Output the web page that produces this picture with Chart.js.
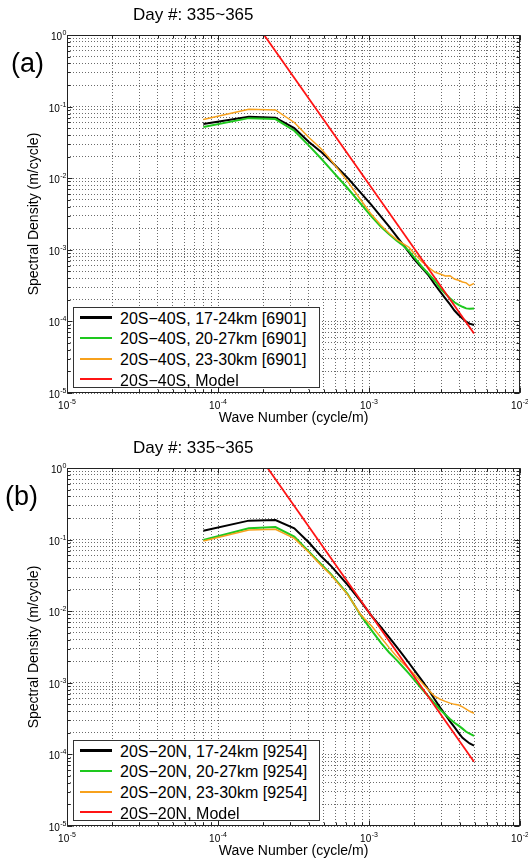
<!DOCTYPE html>
<html>
<head>
<meta charset="utf-8">
<script src="https://cdn.jsdelivr.net/npm/chart.js@4.4.1/dist/chart.umd.min.js"></script>
<style>
  html, body { margin: 0; padding: 0; background: #fff; width: 528px; height: 861px; overflow: hidden; position: relative; }
  .panel { position: absolute; left: 0; width: 540px; height: 433px; }
  .panel canvas { position: absolute; left: 0; top: 0; }
  .title { position: absolute; left: 133px; top: 5px; font: 17px/20px "Liberation Sans", Arial, sans-serif; color: #000; white-space: nowrap; }
  .tag { position: absolute; top: 48px; font: 27px/30px "Liberation Sans", Arial, sans-serif; color: #000; white-space: nowrap; }
  .legend { position: absolute; left: 73px; top: 307px; width: 245px; height: 79px; border: 1px solid #333; background: #fff; }
  .row { position: absolute; left: 0; height: 20px; width: 245px; }
  .swatch { position: absolute; left: 6px; width: 32px; }
  .label { position: absolute; left: 46px; top: 0; font: 16px/20px "Liberation Sans", Arial, sans-serif; color: #000; white-space: nowrap; }
</style>
</head>
<body>
<div class="panel" id="panelA" style="top:0px">
  <canvas id="chartA" width="540" height="433"></canvas>
  <div class="title">Day #: 335~365</div>
  <div class="tag" style="left:11px">(a)</div>
  <div class="legend" id="legendA"></div>
</div>
<div class="panel" id="panelB" style="top:433px">
  <canvas id="chartB" width="540" height="433"></canvas>
  <div class="title">Day #: 335~365</div>
  <div class="tag" style="left:5px">(b)</div>
  <div class="legend" id="legendB"></div>
</div>
<script>
// ---------------- data ----------------
const K = [0.00008, 0.00016, 0.00024, 0.00032, 0.0004, 0.00048, 0.00056, 0.00072, 0.00088, 0.00104,
           0.0012, 0.00136, 0.00152, 0.00168, 0.00184, 0.002, 0.00224, 0.00248, 0.00272, 0.00296,
           0.0032, 0.00344, 0.00368, 0.00392, 0.00416, 0.0044, 0.00464, 0.00496];

// panel (a) 20S-40S
const A_17_24 = [0.057, 0.072, 0.070, 0.050, 0.032, 0.0235, 0.0172, 0.0102, 0.0063, 0.0042,
                 0.0029, 0.0021, 0.00155, 0.00118, 0.00092, 0.00073, 0.00056, 0.00044, 0.00033, 0.00026,
                 0.00021, 0.000173, 0.000142, 0.000123, 0.00011, 0.000099, 0.000093, 0.000089];
const A_20_27 = [0.052, 0.069, 0.067, 0.046, 0.0285, 0.019, 0.0132, 0.0073, 0.0044, 0.0029,
                 0.0021, 0.00165, 0.00135, 0.00115, 0.00096, 0.00078, 0.00058, 0.00046, 0.00037, 0.00029,
                 0.000245, 0.00021, 0.000185, 0.00017, 0.00016, 0.000152, 0.00015, 0.000152];
const A_23_30 = [0.066, 0.092, 0.090, 0.060, 0.037, 0.026, 0.0178, 0.0091, 0.0050, 0.0031,
                 0.0022, 0.0017, 0.0014, 0.00122, 0.00108, 0.00088, 0.00068, 0.00057, 0.00049, 0.00046,
                 0.00043, 0.000435, 0.00039, 0.000375, 0.000355, 0.000345, 0.000315, 0.00034];
const A_MODEL_K = [0.000202, 0.00496];
const A_MODEL = [1.0, 0.0000676];

// panel (b) 20S-20N
const B_17_24 = [0.133, 0.184, 0.188, 0.144, 0.091, 0.059, 0.043, 0.0235, 0.0138, 0.0086,
                 0.0060, 0.0043, 0.00319, 0.00243, 0.00189, 0.00149, 0.00108, 0.00080, 0.00059, 0.00045,
                 0.00036, 0.00029, 0.00024, 0.00020, 0.00017, 0.000155, 0.000142, 0.000133];
const B_20_27 = [0.099, 0.144, 0.150, 0.110, 0.068, 0.0456, 0.033, 0.0175, 0.0088, 0.0054,
                 0.0036, 0.00265, 0.00209, 0.00166, 0.00134, 0.00109, 0.00082, 0.000645, 0.000516, 0.00042,
                 0.00036, 0.000313, 0.000277, 0.000252, 0.000229, 0.000207, 0.000195, 0.000181];
const B_23_30 = [0.0955, 0.136, 0.139, 0.104, 0.066, 0.044, 0.032, 0.0172, 0.0090, 0.0062,
                 0.0043, 0.0031, 0.00235, 0.00188, 0.00156, 0.00131, 0.00100, 0.00079, 0.00065, 0.00059,
                 0.00055, 0.00052, 0.00050, 0.00049, 0.00046, 0.00043, 0.00040, 0.000375];
const B_MODEL_K = [0.000213, 0.00496];
const B_MODEL = [1.0, 0.0000792];

const LABELS_A = ['20S\u221240S, 17-24km [6901]', '20S\u221240S, 20-27km [6901]', '20S\u221240S, 23-30km [6901]', '20S\u221240S, Model'];
const LABELS_B = ['20S\u221220N, 17-24km [9254]', '20S\u221220N, 20-27km [9254]', '20S\u221220N, 23-30km [9254]', '20S\u221220N, Model'];

const X_DECADES = [1e-5, 1e-4, 1e-3, 1e-2];
const X_TICK_LABELS = ['10^-5', '10^-4', '10^-3', '10^-2'];
const Y_DECADES = [1e-5, 1e-4, 1e-3, 1e-2, 1e-1, 1];
const Y_TICK_LABELS = ['10^-5', '10^-4', '10^-3', '10^-2', '10^-1', '10^0'];
const MINOR = [2, 3, 4, 5, 6, 7, 8, 9];

// ---------------- style ----------------
const FONT = '"Liberation Sans", Arial, Helvetica, sans-serif';
const COLORS = ['#000000', '#1ec81e', '#f7a11c', '#ff1414'];
const WIDTHS = [2, 2, 1.5, 1.8];
const GRID_COLOR = 'rgba(70,70,70,0.8)';

function gridValues(decades) {
  const out = [];
  decades.forEach((d, i) => {
    out.push(d);
    if (i < decades.length - 1) MINOR.forEach(m => out.push(d * m));
  });
  return out;
}
const X_GRID = gridValues(X_DECADES);
const Y_GRID = gridValues(Y_DECADES);

function decadeIndex(v, decades) {
  return decades.findIndex(d => Math.abs(Math.log10(d) - Math.log10(v)) < 1e-6);
}

// draws "10" with a raised exponent; anchor: 'center' (x axis) or 'right' (y axis)
function drawPowerLabel(ctx, label, x, baseY, anchor) {
  const parts = label.split('^');
  const base = parts[0], exp = parts[1] || '';
  ctx.font = '10px ' + FONT;
  const wb = ctx.measureText(base).width;
  ctx.font = '7px ' + FONT;
  const we = ctx.measureText(exp).width;
  const total = wb + we + 0.5;
  const x0 = anchor === 'center' ? x - total / 2 : x - total;
  ctx.fillStyle = '#000';
  ctx.textBaseline = 'alphabetic';
  ctx.textAlign = 'left';
  ctx.font = '10px ' + FONT;
  ctx.fillText(base, x0, baseY);
  ctx.font = '7px ' + FONT;
  ctx.fillText(exp, x0 + wb + 0.5, baseY - 5);
}

const framePlugin = {
  id: 'frame',
  afterDatasetsDraw(chart) {
    const ctx = chart.ctx;
    const {left, right, top, bottom} = chart.chartArea;
    const xs = chart.scales.x, ys = chart.scales.y;
    ctx.save();
    ctx.strokeStyle = '#222';
    ctx.lineWidth = 1;
    const L = Math.round(left) + 0.5, R = Math.round(right) - 0.5;
    const T = Math.round(top) + 0.5, B = Math.round(bottom) - 0.5;
    ctx.strokeRect(L, T, R - L, B - T);
    ctx.beginPath();
    X_GRID.forEach(v => {
      const p = Math.round(xs.getPixelForValue(v)) + 0.5;
      const len = decadeIndex(v, X_DECADES) >= 0 ? 5 : 3;
      ctx.moveTo(p, B); ctx.lineTo(p, B - len);
      ctx.moveTo(p, T); ctx.lineTo(p, T + len);
    });
    Y_GRID.forEach(v => {
      const p = Math.round(ys.getPixelForValue(v)) + 0.5;
      const len = decadeIndex(v, Y_DECADES) >= 0 ? 5 : 3;
      ctx.moveTo(L, p); ctx.lineTo(L + len, p);
      ctx.moveTo(R, p); ctx.lineTo(R - len, p);
    });
    ctx.stroke();
    // tick labels with superscript exponents
    X_DECADES.forEach((d, i) => {
      drawPowerLabel(ctx, X_TICK_LABELS[i], xs.getPixelForValue(d), bottom + 16, 'center');
    });
    Y_DECADES.forEach((d, i) => {
      drawPowerLabel(ctx, Y_TICK_LABELS[i], left - 0.5, ys.getPixelForValue(d) + 5, 'right');
    });
    ctx.restore();
  }
};

function makeChart(canvasId, legendId, series, modelK, modelV, labels) {
  const datasets = series.map((arr, i) => ({
    label: labels[i],
    data: K.map((k, j) => ({x: k, y: arr[j]})),
    borderColor: COLORS[i],
    borderWidth: WIDTHS[i],
    order: 4 - i
  }));
  datasets.push({
    label: labels[3],
    data: modelK.map((k, j) => ({x: k, y: modelV[j]})),
    borderColor: COLORS[3],
    borderWidth: WIDTHS[3],
    order: 0
  });

  new Chart(document.getElementById(canvasId), {
    type: 'line',
    data: {datasets},
    options: {
      responsive: false,
      animation: false,
      devicePixelRatio: 1,
      layout: {padding: {left: 25.6, right: 20, top: 35, bottom: 6.6}},
      plugins: {legend: {display: false}, tooltip: {enabled: false}, title: {display: false}},
      elements: {point: {radius: 0}, line: {tension: 0, fill: false}},
      scales: {
        x: {
          type: 'logarithmic', position: 'bottom', min: 1e-5, max: 1e-2,
          afterBuildTicks: s => { s.ticks = X_GRID.map(v => ({value: v})); },
          afterFit: s => { s.height = 33.4; },
          ticks: {display: false, autoSkip: false, minRotation: 0, maxRotation: 0},
          grid: {color: GRID_COLOR, lineWidth: 1, drawTicks: false},
          border: {display: false, dash: [1, 2]},
          title: {display: true, text: 'Wave Number (cycle/m)', color: '#000', font: {family: FONT, size: 14}, padding: 0}
        },
        y: {
          type: 'logarithmic', position: 'left', min: 1e-5, max: 1,
          afterBuildTicks: s => { s.ticks = Y_GRID.map(v => ({value: v})); },
          afterFit: s => { s.width = 41.4; },
          ticks: {display: false, autoSkip: false},
          grid: {color: GRID_COLOR, lineWidth: 1, drawTicks: false},
          border: {display: false, dash: [1, 2]},
          title: {display: true, text: 'Spectral Density (m/cycle)', color: '#000', font: {family: FONT, size: 14}, padding: 0}
        }
      }
    },
    plugins: [framePlugin]
  });

  // legend (HTML, inside the axes box)
  const leg = document.getElementById(legendId);
  const rowTops = [0.5, 21.2, 41.8, 62.5];
  labels.forEach((txt, i) => {
    const row = document.createElement('div');
    row.className = 'row';
    row.style.top = rowTops[i] + 'px';
    const sw = document.createElement('div');
    sw.className = 'swatch';
    sw.style.height = (WIDTHS[i] + 0.6) + 'px';
    sw.style.top = (8.8 - (WIDTHS[i] + 0.6) / 2) + 'px';
    sw.style.background = COLORS[i];
    const lab = document.createElement('div');
    lab.className = 'label';
    lab.textContent = txt;
    row.appendChild(sw);
    row.appendChild(lab);
    leg.appendChild(row);
  });
}

makeChart('chartA', 'legendA', [A_17_24, A_20_27, A_23_30], A_MODEL_K, A_MODEL, LABELS_A);
makeChart('chartB', 'legendB', [B_17_24, B_20_27, B_23_30], B_MODEL_K, B_MODEL, LABELS_B);
</script>
</body>
</html>
